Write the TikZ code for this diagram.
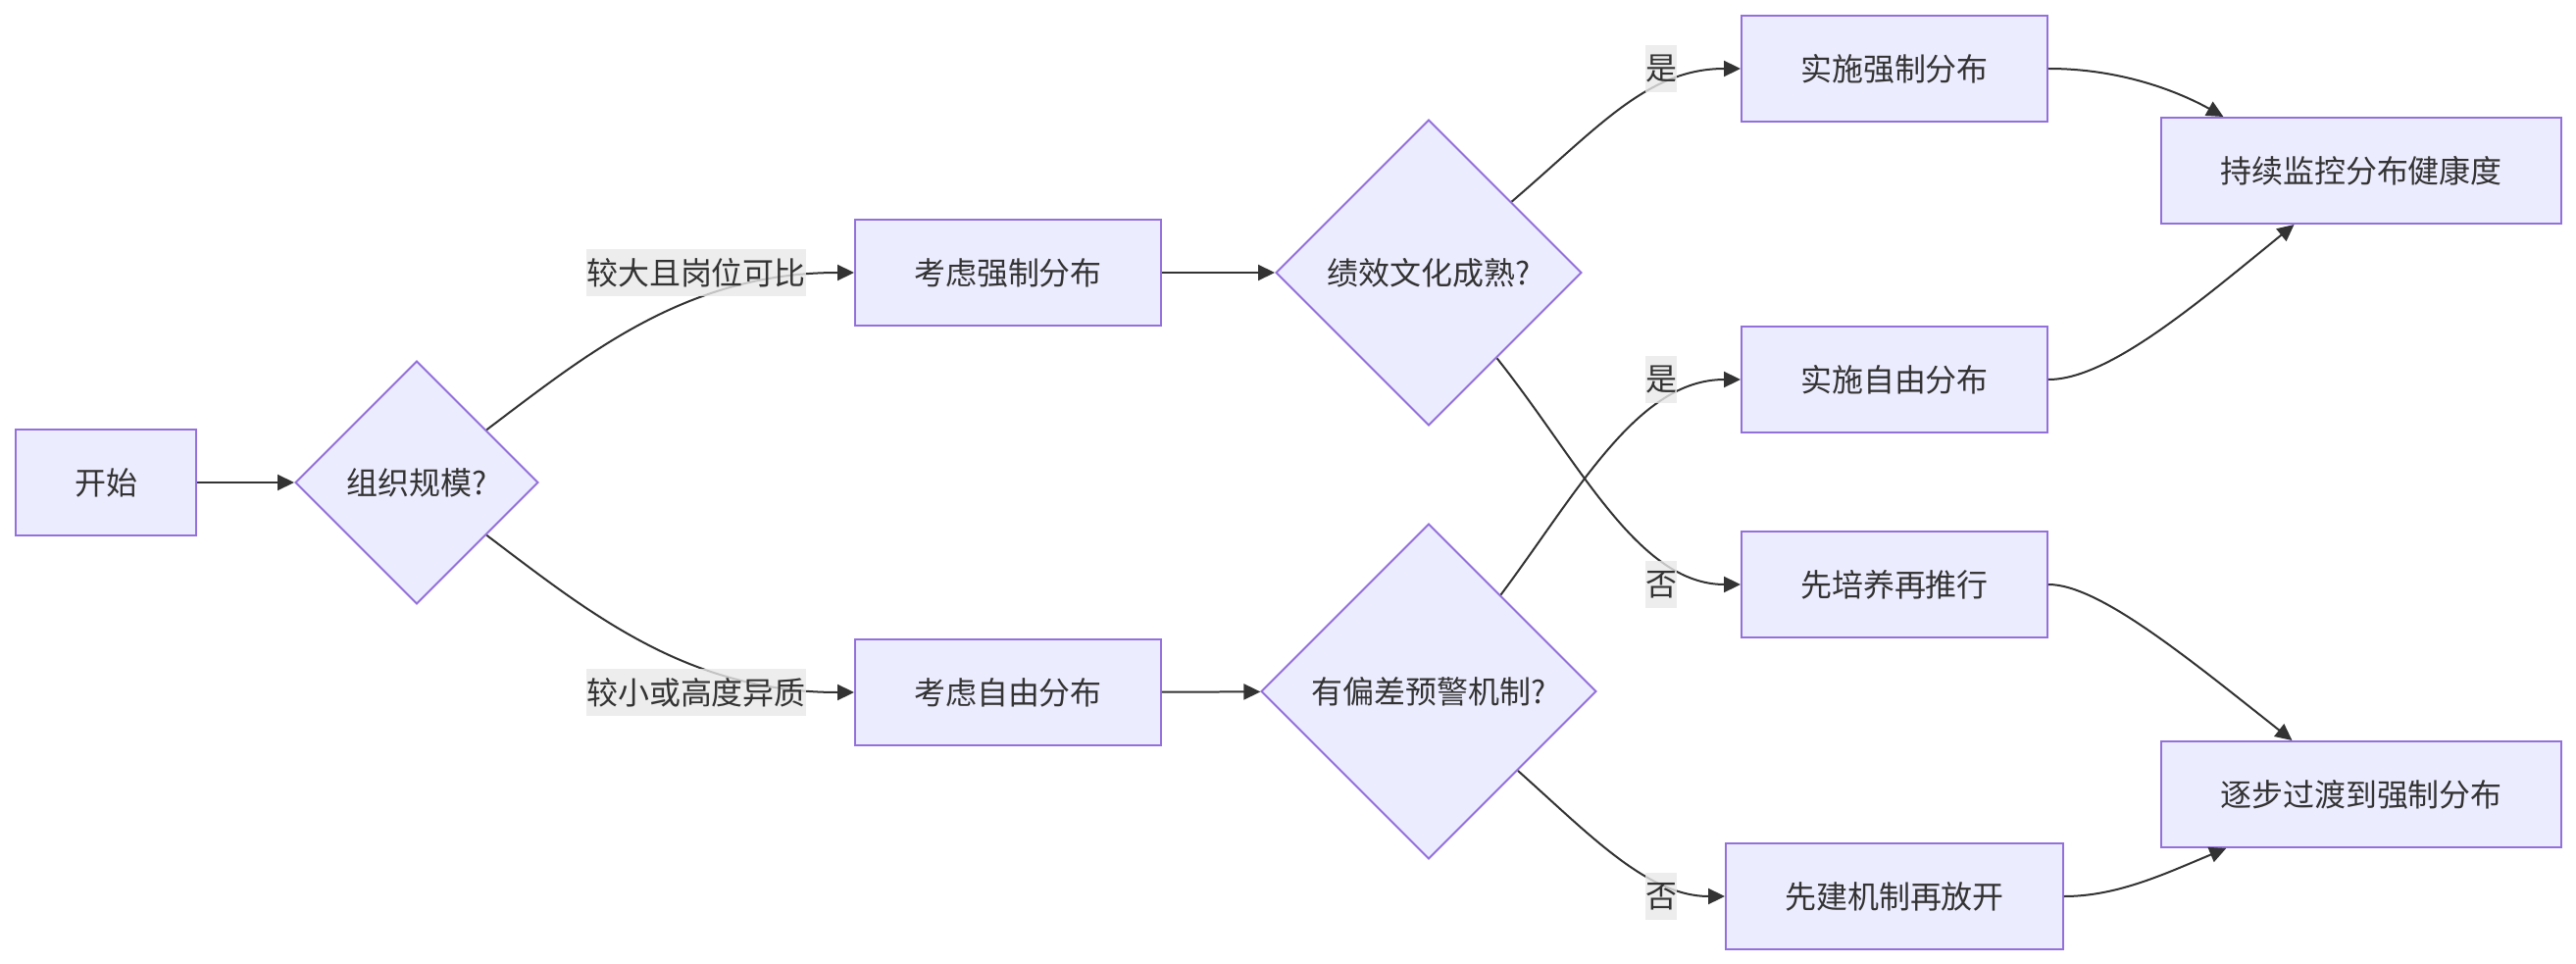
\documentclass[tikz,border=0pt]{standalone}
\usepackage{fontspec}
\setmainfont{Noto Sans CJK SC}
\definecolor{mmfill}{HTML}{ECECFF}
\definecolor{mmline}{HTML}{9370DB}
\definecolor{mmedge}{HTML}{333333}
\definecolor{mmlabel}{HTML}{E8E8E8}
\usetikzlibrary{arrows.meta,shapes.geometric,calc}

\begin{document}
\begin{tikzpicture}[x=0.02cm, y=-0.02cm, font=\fontsize{18.2}{27}\selectfont, text=mmedge]
    \tikzset{procbox/.style={rectangle, draw=mmline, fill=mmfill, line width=0.04cm,
      minimum width=6.24cm, minimum height=2.16cm, inner sep=0pt}}
    \tikzset{decbox/.style={diamond, aspect=1, draw=mmline, fill=mmfill, line width=0.04cm,
      inner sep=0pt}}
    \tikzset{edgelbl/.style={fill=mmlabel, fill opacity=0.8, text opacity=1,
      inner sep=0pt, minimum height=0.96cm}}
    \tikzset{flow/.style={draw=mmedge, line width=0.04cm,
      -{Triangle[length=0.34cm, width=0.32cm]}}}

    \useasboundingbox (0,0) rectangle (2627,983);

    % Start and first decision
    \node[procbox, minimum width=3.68cm] (start) at (108,492) {开始};
    \node[decbox, minimum width=4.96cm, minimum height=4.96cm] (size) at (425,492) {组织规模?};

    % Two options
    \node[procbox] (forced) at (1028,278) {考虑强制分布};
    \node[procbox] (free) at (1028,706) {考虑自由分布};

    % Second decisions
    \node[decbox, minimum width=6.24cm, minimum height=6.24cm] (culture) at (1457,278) {绩效文化成熟?};
    \node[decbox, minimum width=6.84cm, minimum height=6.84cm] (warning) at (1457,705) {有偏差预警机制?};

    % Actions
    \node[procbox] (doforced) at (1932,70) {实施强制分布};
    \node[procbox] (dofree) at (1932,387) {实施自由分布};
    \node[procbox] (trainfirst) at (1932,596) {先培养再推行};
    \node[procbox, minimum width=6.88cm] (buildfirst) at (1932,914) {先建机制再放开};

    % Outcomes
    \node[procbox, minimum width=8.16cm] (monitor) at (2408,174) {持续监控分布健康度};
    \node[procbox, minimum width=8.16cm] (transition) at (2408,810) {逐步过渡到强制分布};

    % Connectors
    \draw[flow] (start) -- (size);
    \draw[flow] (size) .. controls (600,360) and (700,278) .. (forced);
    \draw[flow] (size) .. controls (600,624) and (700,706) .. (free);
    \draw[flow] (forced) -- (culture);
    \draw[flow] (free) -- (warning);
    \draw[flow] (culture) .. controls (1630,130) and (1680,70) .. (doforced);
    \draw[flow] (culture) .. controls (1610,470) and (1670,596) .. (trainfirst);
    \draw[flow] (warning) .. controls (1610,500) and (1670,387) .. (dofree);
    \draw[flow] (warning) .. controls (1620,850) and (1680,914) .. (buildfirst);
    \draw[flow] (doforced) .. controls (2170,70) and (2230,98)
      .. ($(monitor.north west)!0.157!(monitor.north east)$);
    \draw[flow] (dofree) .. controls (2150,387) and (2240,310)
      .. ($(monitor.south west)!0.333!(monitor.south east)$);
    \draw[flow] (trainfirst) .. controls (2140,596) and (2230,670)
      .. ($(transition.north west)!0.328!(transition.north east)$);
    \draw[flow] (buildfirst) .. controls (2160,914) and (2210,890)
      .. ($(transition.south west)!0.164!(transition.south east)$);

    % Edge labels
    \node[edgelbl] (lblbig) at (710,278) {较大且岗位可比};
    \node[edgelbl] (lblsmall) at (710,706) {较小或高度异质};
    \node[edgelbl] (yes1) at (1694,70) {是};
    \node[edgelbl] (no1) at (1694,596) {否};
    \node[edgelbl] (yes2) at (1694,387) {是};
    \node[edgelbl] (no2) at (1694,914) {否};
\end{tikzpicture}
\end{document}
